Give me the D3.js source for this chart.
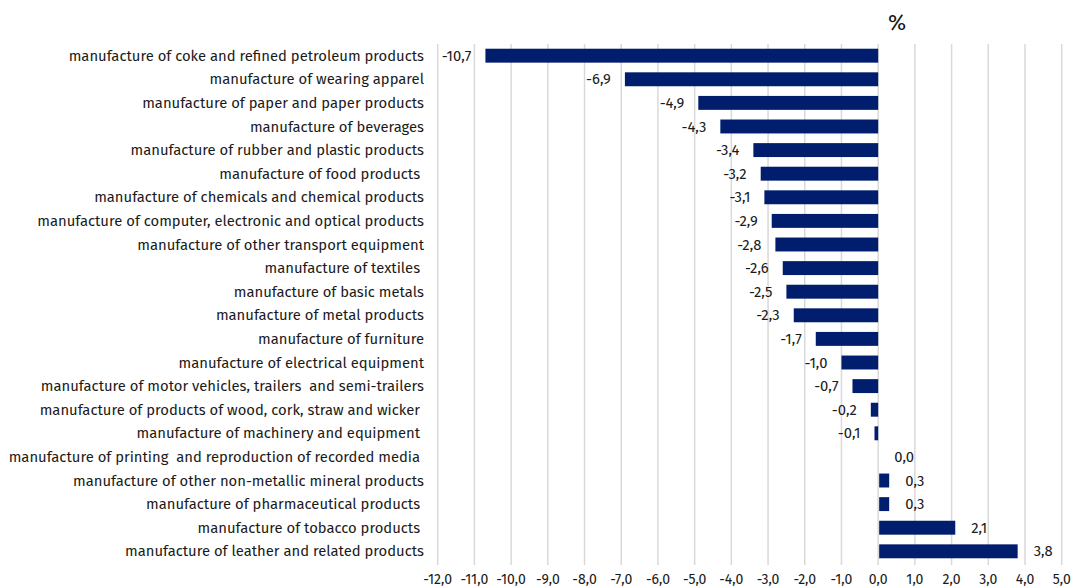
<!DOCTYPE html>
<html>
<head>
<meta charset="utf-8">
<script src="https://cdn.jsdelivr.net/npm/d3@7"></script>
<style>
  html, body { margin: 0; padding: 0; background: #fff; }
  svg { display: block; font-family: "Fira Sans", Roboto, "Noto Sans", sans-serif; }
  text { white-space: pre; }
</style>
</head>
<body>
<svg id="chart" width="1073" height="588"></svg>
<script>
const categories = [
  "manufacture of coke and refined petroleum products",
  "manufacture of wearing apparel",
  "manufacture of paper and paper products",
  "manufacture of beverages",
  "manufacture of rubber and plastic products",
  "manufacture of food products ",
  "manufacture of chemicals and chemical products",
  "manufacture of computer, electronic and optical products",
  "manufacture of other transport equipment",
  "manufacture of textiles ",
  "manufacture of basic metals",
  "manufacture of metal products",
  "manufacture of furniture",
  "manufacture of electrical equipment",
  "manufacture of motor vehicles, trailers  and semi-trailers",
  "manufacture of products of wood, cork, straw and wicker ",
  "manufacture of machinery and equipment ",
  "manufacture of printing  and reproduction of recorded media ",
  "manufacture of other non-metallic mineral products",
  "manufacture of pharmaceutical products ",
  "manufacture of tobacco products ",
  "manufacture of leather and related products"
];
const values = [-10.7, -6.9, -4.9, -4.3, -3.4, -3.2, -3.1, -2.9, -2.8, -2.6, -2.5, -2.3, -1.7, -1.0, -0.7, -0.2, -0.1, 0.0, 0.3, 0.3, 2.1, 3.8];
const ticks = [-12, -11, -10, -9, -8, -7, -6, -5, -4, -3, -2, -1, 0, 1, 2, 3, 4, 5];
const unitLabel = "%";

(function () {
const data = categories.map((c, i) => ({ cat: c, val: values[i] }));
const loc = d3.formatLocale({ decimal: ",", thousands: " ", grouping: [3], currency: ["", ""], minus: "-" });
const fmt = loc.format(".1f");

const svg = d3.select("#chart");
const pLeft = 437.7, pRight = 1061.7, pTop = 44, pBottom = 563;

const x = d3.scaleLinear().domain([-12, 5]).range([pLeft, pRight]);
const y = d3.scaleBand().domain(categories).range([pTop, pBottom]).paddingInner(0.41).paddingOuter(0.2);

// gridlines
svg.append("g").selectAll("line").data(ticks).join("line")
  .attr("x1", d => x(d)).attr("x2", d => x(d))
  .attr("y1", pTop).attr("y2", pBottom + 2)
  .attr("stroke", "#d9d9d9").attr("stroke-width", 1.5);

// tick labels
svg.append("g").selectAll("text").data(ticks).join("text")
  .attr("x", d => x(d)).attr("y", 584)
  .attr("text-anchor", "middle")
  .attr("font-size", 14).attr("fill", "#1a1a1a")
  .text(d => fmt(d));

// bars
svg.append("g").selectAll("rect").data(data).join("rect")
  .attr("x", d => Math.min(x(0), x(d.val)) + (d.val > 0 ? 1 : 0))
  .attr("y", d => y(d.cat))
  .attr("width", d => Math.max(0, Math.abs(x(d.val) - x(0)) - (d.val > 0 ? 1 : 0)))
  .attr("height", y.bandwidth())
  .attr("fill", "#001d6e");

// value labels
svg.append("g").selectAll("text").data(data).join("text")
  .attr("x", d => d.val < 0 ? x(d.val) - 14 : x(d.val) + 16)
  .attr("y", d => y(d.cat) + y.bandwidth() / 2)
  .attr("dy", "0.35em")
  .attr("text-anchor", d => d.val < 0 ? "end" : "start")
  .attr("font-size", 14.8).attr("fill", "#1a1a1a")
  .text(d => fmt(d.val));

// category labels
svg.append("g").selectAll("text").data(data).join("text")
  .attr("x", 424)
  .attr("y", d => y(d.cat) + y.bandwidth() / 2)
  .attr("dy", "0.35em")
  .attr("text-anchor", "end")
  .attr("font-size", 14.8).attr("fill", "#1a1a1a")
  .text(d => d.cat);

// unit label
svg.append("text")
  .attr("x", 897).attr("y", 30)
  .attr("text-anchor", "middle")
  .attr("font-size", 22).attr("fill", "#1a1a1a")
  .text(unitLabel);
})();
</script>
</body>
</html>
